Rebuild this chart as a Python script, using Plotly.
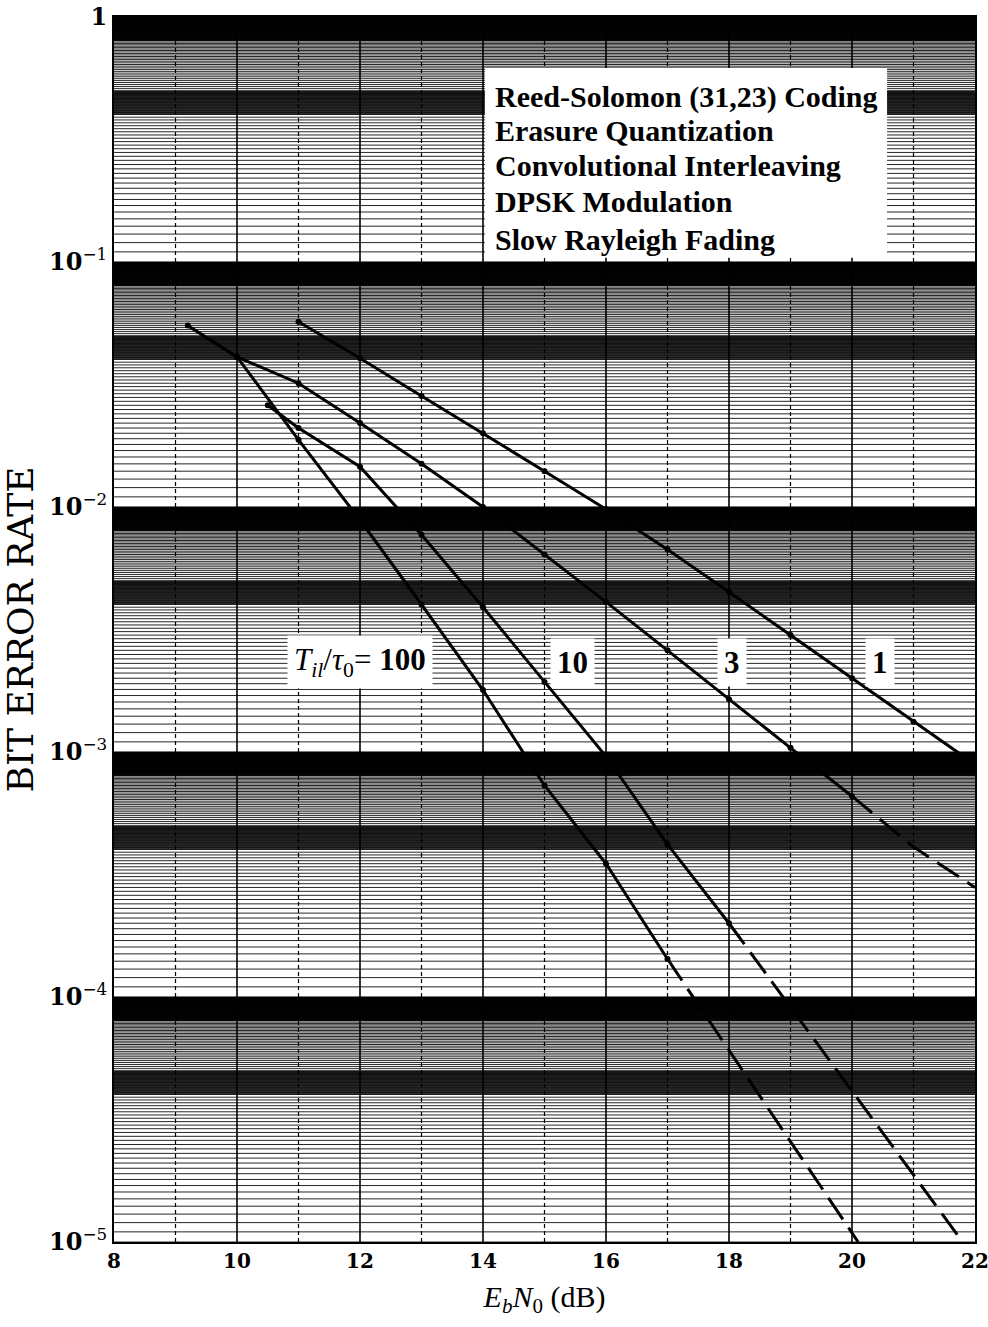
import math
import plotly.graph_objects as go

# ---- curve data: Eb/N0 (dB) and bit error rate -------------------------
# solid parts (computed points)
snr_100 = [9.2, 10, 11, 12, 13, 14, 15, 16, 17]
ber_100 = [5.5e-2, 4.1e-2, 1.88e-2, 8.85e-3, 4.0e-3, 1.79e-3, 7.3e-4, 3.5e-4, 1.43e-4]
snr_10 = [10.5, 11, 12, 13, 14, 15, 16, 17, 18]
ber_10 = [2.6e-2, 2.1e-2, 1.46e-2, 7.7e-3, 3.9e-3, 1.93e-3, 9.6e-4, 4.2e-4, 2.0e-4]
snr_3 = [10, 11, 12, 13, 14, 15, 16, 17, 18, 19, 20]
ber_3 = [4.1e-2, 3.2e-2, 2.2e-2, 1.5e-2, 1.0e-2, 6.4e-3, 4.1e-3, 2.6e-3, 1.64e-3, 1.04e-3, 6.6e-4]
snr_1 = [11, 12, 13, 14, 15, 16, 17, 18, 19, 20, 21, 22]
ber_1 = [5.7e-2, 4.05e-2, 2.84e-2, 2.0e-2, 1.40e-2, 9.8e-3, 6.7e-3, 4.5e-3, 3.0e-3, 2.0e-3, 1.33e-3, 8.9e-4]

# dashed extrapolations
snr_100_ext = [17, 20.1]
ber_100_ext = [1.43e-4, 1.0e-5]
snr_10_ext = [18, 21.8]
ber_10_ext = [2.0e-4, 1.0e-5]
snr_3_ext = [20, 21, 22]
ber_3_ext = [6.6e-4, 4.1e-4, 2.8e-4]

curve_labels = ["<i>T<sub>il</sub></i>/<i>τ</i><sub>0</sub>= <b>100</b>", "<b>10</b>", "<b>3</b>", "<b>1</b>"]
label_snr = [12.0, 15.45, 18.05, 20.45]
label_ber = 2.33e-3

info_lines = ["Reed-Solomon (31,23) Coding", "Erasure Quantization",
              "Convolutional Interleaving", "DPSK Modulation", "Slow Rayleigh Fading"]
info_ber = [0.471, 0.343, 0.247, 0.176, 0.124]

x_ticks = [8, 10, 12, 14, 16, 18, 20, 22]
x_ticktext = ["<b>%d</b>" % v for v in x_ticks]
y_ticks = [1e-5, 1e-4, 1e-3, 1e-2, 1e-1, 1]
y_ticktext = ["<b>10</b><sup>−5</sup>", "<b>10</b><sup>−4</sup>", "<b>10</b><sup>−3</sup>",
              "<b>10</b><sup>−2</sup>", "<b>10</b><sup>−1</sup>", "<b>1</b>"]

SERIF = "Liberation Serif, Times New Roman, serif"
WIDE_SERIF = "DejaVu Serif, serif"
X0, X1 = 8, 22

fig = go.Figure()

# ---- log graph-paper ruling ---------------------------------------------
def seq(a, b, step):
    out, v = [], a
    while v < b - 1e-9:
        out.append(round(v, 4))
        v += step
    return out

mant = seq(1.0, 4.0, 0.1) + seq(4.0, 5.0, 0.025) + seq(5.0, 8.0, 0.1) + seq(8.0, 10.0, 0.025)
fine_y = []
for k in range(-5, 0):
    for m in mant:
        fine_y.append(m * 10 ** k)

hx, hy = [], []
for v in fine_y:
    hx += [X0, X1, None]
    hy += [v, v, None]
fig.add_trace(go.Scatter(x=hx, y=hy, mode="lines", line=dict(color="rgba(0,0,0,0.85)", width=1),
                         hoverinfo="skip", showlegend=False))

# vertical rulings every dB
for d in range(9, 22):
    fig.add_trace(go.Scatter(x=[d, d], y=[1e-5, 1], mode="lines",
                             line=dict(color="black", width=1.6 if d % 2 == 0 else 1.2,
                                       dash="solid" if d % 2 == 0 else "4px,3px"),
                             hoverinfo="skip", showlegend=False))

# white panel behind the description text
fig.add_shape(type="rect", xref="x", yref="y", x0=14.03, x1=20.57, y0=0.104, y1=0.619,
              fillcolor="white", line=dict(width=0), layer="above")

# ---- BER curves ----------------------------------------------------------
for xs, ys in [(snr_100, ber_100), (snr_10, ber_10), (snr_3, ber_3), (snr_1, ber_1)]:
    fig.add_trace(go.Scatter(x=xs, y=ys, mode="lines+markers",
                             line=dict(color="black", width=3),
                             marker=dict(color="black", size=6), showlegend=False))
for xs, ys in [(snr_100_ext, ber_100_ext), (snr_10_ext, ber_10_ext), (snr_3_ext, ber_3_ext)]:
    fig.add_trace(go.Scatter(x=xs, y=ys, mode="lines",
                             line=dict(color="black", width=3, dash="26px,10px"),
                             showlegend=False))

# ---- annotations ---------------------------------------------------------
for t, xv in zip(curve_labels, label_snr):
    fig.add_annotation(x=xv, y=math.log10(label_ber), text=t, showarrow=False,
                       bgcolor="white", borderpad=6,
                       font=dict(family=SERIF, size=31, color="black"))

for t, yv in zip(info_lines, info_ber):
    fig.add_annotation(x=14.16, y=math.log10(yv), text="<b>" + t + "</b>", showarrow=False,
                       xanchor="left", font=dict(family=SERIF, size=30, color="black"))

fig.update_layout(
    width=988, height=1327,
    margin=dict(l=114, r=13, t=17, b=85),
    plot_bgcolor="white", paper_bgcolor="white",
    xaxis=dict(range=[X0, X1], tickvals=x_ticks, ticktext=x_ticktext, showgrid=False,
               zeroline=False, automargin=False, ticklabeloverflow="allow",
               showline=True, mirror=True, linecolor="black", linewidth=2,
               ticks="", tickfont=dict(family=WIDE_SERIF, size=20, color="black"),
               title=dict(text="<i>E<sub>b</sub>N</i><sub>0</sub> (dB)", standoff=14,
                          font=dict(family=SERIF, size=30, color="black"))),
    yaxis=dict(type="log", range=[-5, 0], tickvals=y_ticks, ticktext=y_ticktext,
               showgrid=False, zeroline=False, automargin=False, ticklabeloverflow="allow",
               showline=True, mirror=True,
               linecolor="black", linewidth=2, ticks="",
               tickfont=dict(family=WIDE_SERIF, size=24, color="black"),
               title=dict(text="BIT ERROR RATE", standoff=4,
                          font=dict(family=WIDE_SERIF, size=36, color="black"))),
)

fig.write_html("out.html")
